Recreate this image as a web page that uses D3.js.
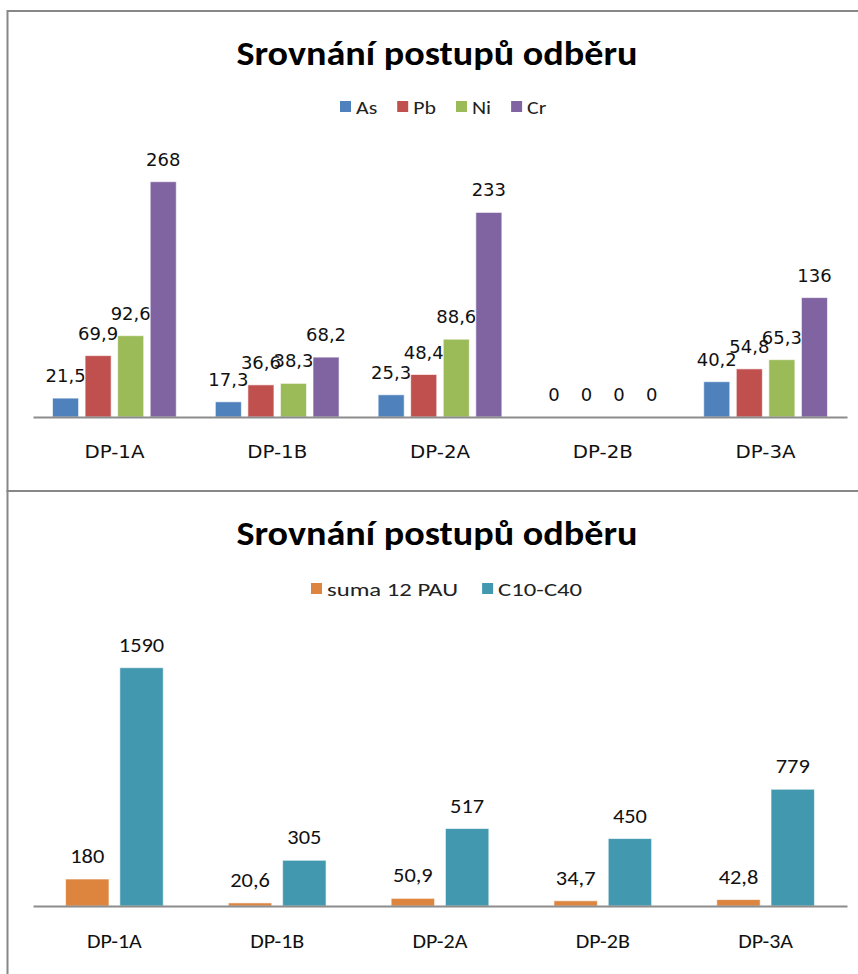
<!DOCTYPE html>
<html>
<head>
<meta charset="utf-8">
<script src="https://cdn.jsdelivr.net/npm/d3@7/dist/d3.min.js"></script>
<style>
  body { margin: 0; background: #fff; }
  svg { display: block; }
</style>
</head>
<body>
<svg id="chart" width="858" height="974"></svg>
<script>
// data
var categories = ["DP-1A", "DP-1B", "DP-2A", "DP-2B", "DP-3A"];

var metalSeries = ["As", "Pb", "Ni", "Cr"];
var metalValues = {
  As: [21.5, 17.3, 25.3, 0, 40.2],
  Pb: [69.9, 36.6, 48.4, 0, 54.8],
  Ni: [92.6, 38.3, 88.6, 0, 65.3],
  Cr: [268, 68.2, 233, 0, 136]
};

var orgSeries = ["suma 12 PAU", "C10-C40"];
var orgValues = {
  "suma 12 PAU": [180, 20.6, 50.9, 34.7, 42.8],
  "C10-C40": [1590, 305, 517, 450, 779]
};

var title = "Srovnání postupů odběru";

var metalColors = ["#4f81bd", "#c0504d", "#9bbb59", "#8064a2"];
var orgColors = ["#dd843e", "#4298af"];

var svg = d3.select("#chart");

svg.append("rect").attr("width", 858).attr("height", 974).attr("fill", "#fff");

// frames of the two charts
svg.append("rect")
    .attr("x", 7.5).attr("y", 11)
    .attr("width", 900).attr("height", 480)
    .attr("fill", "none").attr("stroke", "#878787").attr("stroke-width", 2);
svg.append("rect")
    .attr("x", 7.5).attr("y", 491)
    .attr("width", 900).attr("height", 520)
    .attr("fill", "none").attr("stroke", "#878787").attr("stroke-width", 2);

var calibri = "Carlito, Lato, 'Liberation Sans Narrow', sans-serif";
var verdana = "'DejaVu Sans', Verdana, sans-serif";

function fmt(v) {
  return String(v).replace(".", ",");
}

// the original picture is a bit wider than tall, so stretch text horizontally
function stretch(sel, k) {
  sel.each(function() {
    var len = this.getComputedTextLength();
    d3.select(this)
        .attr("textLength", len * k)
        .attr("lengthAdjust", "spacingAndGlyphs");
  });
}

function drawChart(opt) {
  var g = svg.append("g");
  var series = opt.series;

  var x0 = d3.scaleBand()
      .domain(categories)
      .range([33, 847]);

  // excel-like: gap between clusters 150 % of bar, 25 % between bars
  var n = series.length;
  var w = x0.bandwidth() / (n + (n - 1) * 0.25 + 1.5);
  var x1 = d3.scaleBand()
      .domain(series)
      .range([0.75 * w, x0.bandwidth() - 0.75 * w])
      .paddingInner(0.2);

  var y = d3.scaleLinear()
      .domain([0, opt.max])
      .range([opt.base, opt.top]);

  g.append("text")
      .attr("x", 437).attr("y", opt.titleY)
      .attr("text-anchor", "middle")
      .style("font-family", calibri)
      .style("font-weight", "bold")
      .style("font-size", "35px")
      .attr("fill", "#000")
      .text(title)
      .call(stretch, 1.09);

  // legend
  var leg = g.append("g")
      .attr("transform", "translate(0," + opt.legendY + ")");
  var lx = opt.legendX;
  series.forEach(function(s, i) {
    leg.append("rect")
        .attr("x", lx).attr("y", -6)
        .attr("width", 11).attr("height", 11)
        .attr("fill", opt.colors[i]);
    var t = leg.append("text")
        .attr("x", lx + 16).attr("y", 7)
        .style("font-family", calibri)
        .style("font-size", "19px")
        .attr("fill", "#222")
        .text(s)
        .call(stretch, opt.legendStretch);
    lx += 16 + t.node().getBBox().width + opt.legendGap;
  });

  var grp = g.selectAll("g.cat")
      .data(categories)
    .enter().append("g")
      .attr("class", "cat")
      .attr("transform", function(d) { return "translate(" + x0(d) + ",0)"; });

  series.forEach(function(s, si) {
    var vals = opt.values[s];
    grp.append("rect")
        .attr("x", x1(s))
        .attr("width", x1.bandwidth())
        .attr("y", function(d, i) { return y(vals[i]); })
        .attr("height", function(d, i) { return opt.base - y(vals[i]); })
        .attr("fill", opt.colors[si])
        .attr("stroke", "rgba(255,255,255,0.6)")
        .attr("stroke-width", 1);

    grp.append("text")
        .attr("x", x1(s) + x1.bandwidth() / 2)
        .attr("y", function(d, i) { return y(vals[i]) - opt.labelGap; })
        .attr("text-anchor", "middle")
        .style("font-family", opt.labelFont)
        .style("font-size", opt.labelSize)
        .attr("fill", "#111")
        .text(function(d, i) { return fmt(vals[i]); })
        .call(stretch, opt.labelStretch);
  });

  // axis
  var axis = g.append("g")
      .attr("transform", "translate(0," + opt.base + ")")
      .call(d3.axisBottom(x0).tickSize(0).tickPadding(opt.tickPad));
  axis.select(".domain").attr("stroke", "#8c8c8c").attr("stroke-width", 2);
  axis.selectAll("text")
      .style("font-family", opt.labelFont)
      .style("font-size", opt.catSize)
      .attr("fill", "#111")
      .call(stretch, 1.1);
}

drawChart({
  series: metalSeries, values: metalValues, colors: metalColors,
  max: 268, top: 181.7, base: 417,
  titleY: 65, legendY: 107, legendX: 340, legendGap: 20, legendStretch: 1.15,
  labelGap: 16, labelFont: verdana, labelSize: "18px", labelStretch: 1.0,
  catSize: "18px", tickPad: 28
});

drawChart({
  series: orgSeries, values: orgValues, colors: orgColors,
  max: 1590, top: 667.7, base: 906,
  titleY: 545, legendY: 589, legendX: 311, legendGap: 24, legendStretch: 1.3,
  labelGap: 16, labelFont: calibri, labelSize: "20px", labelStretch: 1.12,
  catSize: "20px", tickPad: 28
});
</script>
</body>
</html>
